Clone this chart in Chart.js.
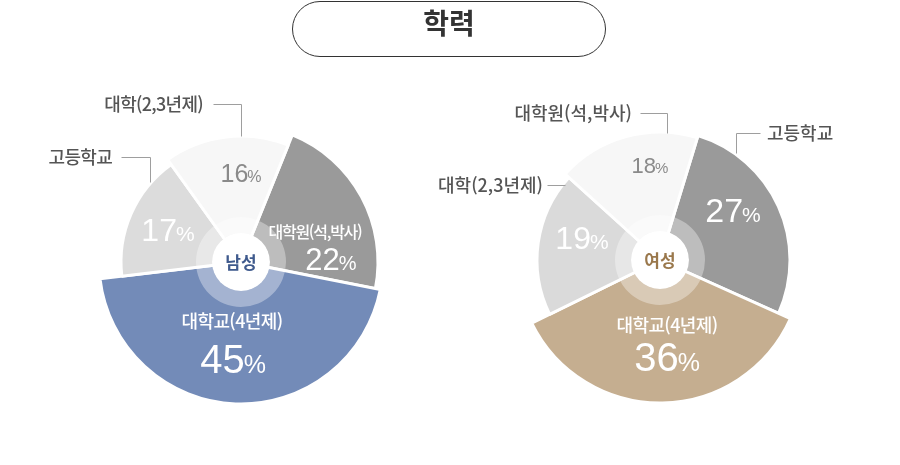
<!DOCTYPE html>
<html lang="ko">
<head>
<meta charset="utf-8">
<script src="https://cdn.jsdelivr.net/npm/chart.js@4.4.1/dist/chart.umd.min.js"></script>
<style>
  html, body { margin: 0; padding: 0; background: #fff; }
  #wrap { position: relative; width: 900px; height: 465px; overflow: hidden; }
  #wrap canvas { position: absolute; top: 0; }
  #maleChart { left: 0; }
  #femaleChart { left: 400px; }
  .title {
    position: absolute; left: 292px; top: 1px; width: 314px; height: 56px;
    box-sizing: border-box; border: 1px solid #333; border-radius: 28px;
    text-align: center; line-height: 52px; color: #333;
    font: bold 28px "Noto Sans CJK KR", sans-serif; z-index: 2;
  }
</style>
</head>
<body>
<div id="wrap">
  <div class="title">학력</div>
  <canvas id="maleChart" width="450" height="465"></canvas>
  <canvas id="femaleChart" width="500" height="465"></canvas>
</div>
<script>
// data
var maleLabels = ["대학원(석,박사)", "대학교(4년제)", "고등학교", "대학(2,3년제)"];
var maleValues = [22, 45, 17, 16];
var femaleLabels = ["고등학교", "대학교(4년제)", "대학(2,3년제)", "대학원(석,박사)"];
var femaleValues = [27, 36, 19, 18];

var NUM_FONT = '"Liberation Sans", Arial, sans-serif';
var KO_FONT = '"Noto Sans CJK KR", sans-serif';

// styles (offsets are relative to the pie centre)
var maleStyle = {
    colors: ["#9a9a9a", "#738bb8", "#dcdcdc", "#f7f7f7"],
    radii: [137, 142, 120, 126],
    rotation: 22,
    padding: { left: 32, right: 0, top: 59, bottom: 0 },
    center: { text: "남성", color: "#3f5a8d" },
    outSize: 18, outSpacing: -0.7,
    labels: [
        { pct: [90, -3, 31, 20, "#fff"], name: [74, -30, 16, "#fff", -1.3] },
        { pct: [-8, 97, 40, 25, "#fff"], name: [-9, 59, 18, "#fff", -0.6] },
        { pct: [-73, -33, 32, 21, "#fff"], out: { at: [-129, -105], align: "right", line: [[-120, -105], [-91, -105], [-91, -80]] } },
        { pct: [0, -89, 25, 16, "#8a8a8a"], out: { at: [-38, -158], align: "right", line: [[-28, -158], [0, -158], [0, -126]] } }
    ]
};

var femaleStyle = {
    colors: ["#9a9a9a", "#c5ae90", "#dadada", "#f7f7f7"],
    radii: [130, 143, 123, 128],
    rotation: 17,
    padding: { left: 20, right: 0, top: 55, bottom: 0 },
    center: { text: "여성", color: "#9a784c" },
    outSize: 18, outSpacing: 0,
    labels: [
        { pct: [73, -50, 34, 21, "#fff"], out: { at: [107, -127], align: "left", line: [[100, -127], [76, -127], [76, -107]] } },
        { pct: [7, 97, 40, 25, "#fff"], name: [7, 65, 18, "#fff", -0.6] },
        { pct: [-78, -23, 32, 21, "#fff"], out: { at: [-117, -75], align: "right", line: [[-113, -75], [-95, -75]] } },
        { pct: [-10, -95, 22, 15, "#8a8a8a"], out: { at: [-28, -147], align: "right", line: [[-20, -147], [7, -147], [7, -127]] } }
    ]
};

function drawPct(ctx, value, x, y, size, pctSize, color) {
    ctx.fillStyle = color;
    ctx.textAlign = "left";
    ctx.textBaseline = "alphabetic";
    ctx.letterSpacing = "0px";
    ctx.font = size + "px " + NUM_FONT;
    var w1 = ctx.measureText(String(value)).width;
    ctx.font = pctSize + "px " + NUM_FONT;
    var w2 = ctx.measureText("%").width;
    var gap = -1;
    var left = x - (w1 + gap + w2) / 2;
    var base = y + size * 0.36;
    ctx.font = size + "px " + NUM_FONT;
    ctx.fillText(String(value), left, base);
    ctx.font = pctSize + "px " + NUM_FONT;
    ctx.fillText("%", left + w1 + gap, base);
}

function makePlugin(style) {
    return {
        id: "pieShape",
        beforeDatasetsDraw: function (chart) {
            chart.getDatasetMeta(0).data.forEach(function (arc, i) {
                arc.outerRadius = style.radii[i];
            });
        },
        afterDatasetsDraw: function (chart) {
            var ctx = chart.ctx;
            var arcs = chart.getDatasetMeta(0).data;
            var cx = arcs[0].x, cy = arcs[0].y;
            var values = chart.data.datasets[0].data;
            var names = chart.data.labels;
            ctx.save();

            // translucent ring + white hub
            ctx.beginPath();
            ctx.arc(cx, cy, 45, 0, Math.PI * 2);
            ctx.arc(cx, cy, 29, 0, Math.PI * 2, true);
            ctx.fillStyle = "rgba(255,255,255,0.35)";
            ctx.fill();
            ctx.beginPath();
            ctx.arc(cx, cy, 29, 0, Math.PI * 2);
            ctx.fillStyle = "#fff";
            ctx.fill();

            ctx.font = "bold 17px " + KO_FONT;
            ctx.fillStyle = style.center.color;
            ctx.textAlign = "center";
            ctx.textBaseline = "middle";
            ctx.fillText(style.center.text, cx, cy + 1);

            style.labels.forEach(function (lb, i) {
                var p = lb.pct;
                drawPct(ctx, values[i], cx + p[0], cy + p[1], p[2], p[3], p[4]);
                if (lb.name) {
                    ctx.font = "500 " + lb.name[2] + "px " + KO_FONT;
                    ctx.letterSpacing = lb.name[4] + "px";
                    ctx.fillStyle = lb.name[3];
                    ctx.textAlign = "center";
                    ctx.textBaseline = "middle";
                    ctx.fillText(names[i], cx + lb.name[0], cy + lb.name[1]);
                }
                if (lb.out) {
                    ctx.font = "500 " + style.outSize + "px " + KO_FONT;
                    ctx.letterSpacing = style.outSpacing + "px";
                    ctx.fillStyle = "#555";
                    ctx.textAlign = lb.out.align;
                    ctx.textBaseline = "middle";
                    ctx.fillText(names[i], cx + lb.out.at[0], cy + lb.out.at[1]);
                    ctx.beginPath();
                    lb.out.line.forEach(function (pt, k) {
                        var px = Math.round(cx + pt[0]) + 0.5, py = Math.round(cy + pt[1]) + 0.5;
                        if (k === 0) ctx.moveTo(px, py); else ctx.lineTo(px, py);
                    });
                    ctx.strokeStyle = "#9e9e9e";
                    ctx.lineWidth = 1;
                    ctx.stroke();
                }
            });
            ctx.restore();
        }
    };
}

function buildPie(id, labels, values, style) {
    return new Chart(document.getElementById(id), {
        type: "pie",
        data: {
            labels: labels,
            datasets: [{
                data: values,
                backgroundColor: style.colors,
                borderColor: "#fff",
                borderWidth: 3
            }]
        },
        options: {
            responsive: false,
            animation: false,
            events: [],
            rotation: style.rotation,
            layout: { padding: style.padding },
            plugins: {
                legend: { display: false },
                tooltip: { enabled: false }
            }
        },
        plugins: [makePlugin(style)]
    });
}

buildPie("maleChart", maleLabels, maleValues, maleStyle);
buildPie("femaleChart", femaleLabels, femaleValues, femaleStyle);
</script>
</body>
</html>
